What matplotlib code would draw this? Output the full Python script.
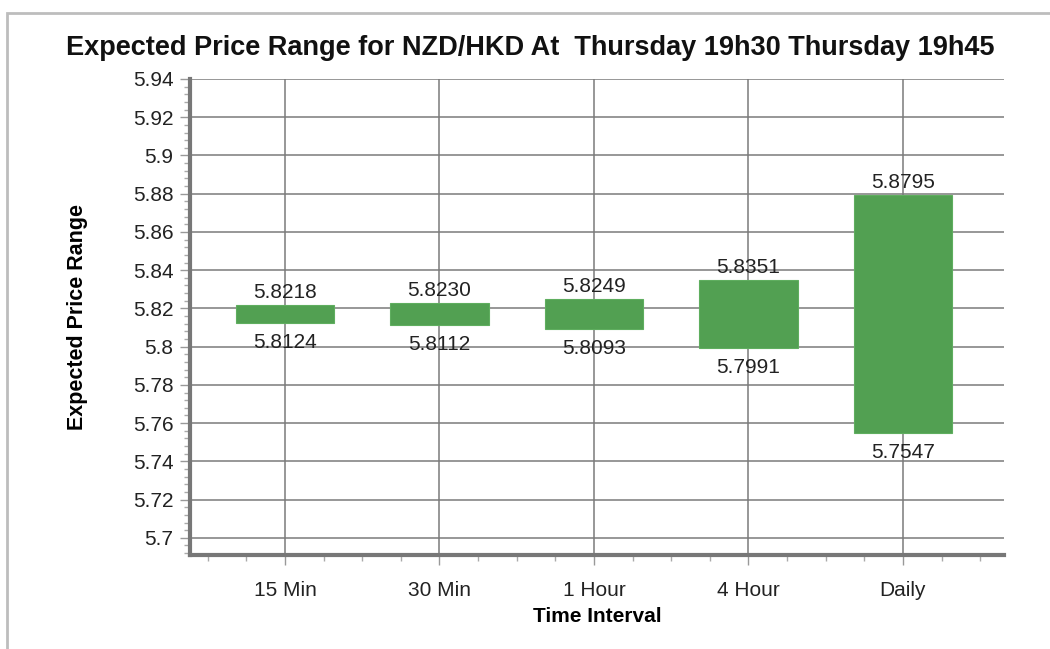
import matplotlib
matplotlib.use("Agg")
import matplotlib.pyplot as plt
from matplotlib.patches import Rectangle
from matplotlib.ticker import MultipleLocator, FuncFormatter

categories = ["15 Min", "30 Min", "1 Hour", "4 Hour", "Daily"]
lows = [5.8124, 5.8112, 5.8093, 5.7991, 5.7547]
highs = [5.8218, 5.8230, 5.8249, 5.8351, 5.8795]
low_labels = ["5.8124", "5.8112", "5.8093", "5.7991", "5.7547"]
high_labels = ["5.8218", "5.8230", "5.8249", "5.8351", "5.8795"]

plt.rcParams['font.family'] = ['Liberation Sans', 'DejaVu Sans']

W, H = 1050, 649
fig = plt.figure(figsize=(W / 100, H / 100), dpi=100)

# outer frame
fig.patches.append(Rectangle((7 / W, -0.05), 1.1, 1 - 13 / H + 0.05,
                             transform=fig.transFigure, fill=False,
                             edgecolor="#bdbdbd", linewidth=2))

ax = fig.add_axes([190 / W, 94 / H, 814 / W, 476 / H])
x = list(range(len(categories)))
heights = [h - l for h, l in zip(highs, lows)]
ax.bar(x, heights, bottom=lows, width=0.635, color="#52a052", edgecolor="#5fae5f",
       linewidth=0.8, zorder=3)

for xi, lo, hi, ll, hl in zip(x, lows, highs, low_labels, high_labels):
    ax.annotate(hl, (xi, hi), xytext=(0, 2), textcoords="offset points",
                ha="center", va="bottom", fontsize=15, color="#222222", zorder=4)
    ax.annotate(ll, (xi, lo), xytext=(0, -7), textcoords="offset points",
                ha="center", va="top", fontsize=15, color="#222222", zorder=4)

ax.set_xlim(-0.615, 4.654)
ax.set_ylim(5.691, 5.94)
ax.set_xticks(x)
ax.set_xticklabels(categories)
ax.xaxis.set_minor_locator(MultipleLocator(0.25))
ax.yaxis.set_major_locator(MultipleLocator(0.02))
ax.yaxis.set_minor_locator(MultipleLocator(0.004))
ax.yaxis.set_major_formatter(FuncFormatter(lambda v, p: f"{round(v, 2):g}"))

for s in ["top", "right"]:
    ax.spines[s].set_visible(False)
for s in ["left", "bottom"]:
    ax.spines[s].set_color("#777777")
    ax.spines[s].set_linewidth(3)

ax.tick_params(axis="both", which="major", length=7, width=1, color="#999999",
               labelsize=15, labelcolor="#222222", pad=5)
ax.tick_params(axis="both", which="minor", length=4, width=1, color="#aaaaaa")
ax.tick_params(axis="x", which="major", pad=12)

ax.grid(True, which="major", color="#7a7a7a", linewidth=1.1, zorder=0)
ax.set_axisbelow(True)

ax.set_xlabel("Time Interval", fontsize=15, fontweight="bold", labelpad=5)
ax.set_ylabel("Expected Price Range", fontsize=15.5, fontweight="bold", labelpad=32)

fig.text(530 / W, 1 - 48 / H, "Expected Price Range for NZD/HKD At  Thursday 19h30 Thursday 19h45",
         ha="center", va="center", fontsize=19.5, fontweight="bold", color="#111111")

fig.savefig("out.png", dpi=100)
